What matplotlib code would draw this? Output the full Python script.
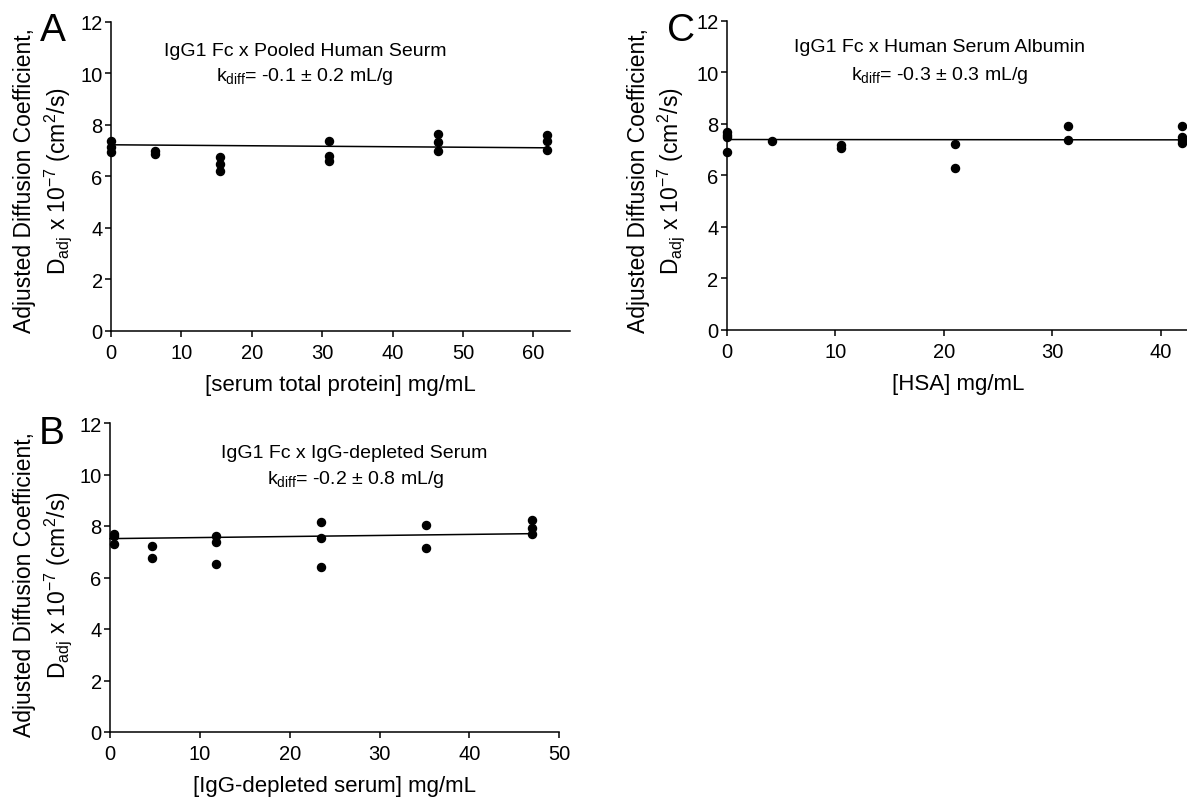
import matplotlib.pyplot as plt
import numpy as np

plt.rcParams['font.family'] = ['Liberation Sans', 'DejaVu Sans']
plt.rcParams['mathtext.default'] = 'regular'
plt.rcParams['axes.unicode_minus'] = False

# Panel A: pooled human serum
a_x = [0, 0, 0, 6.2, 6.2, 15.5, 15.5, 15.5, 31, 31, 31, 46.5, 46.5, 46.5, 62, 62, 62]
a_y = [7.38, 7.15, 6.95, 6.98, 6.88, 6.73, 6.47, 6.21, 7.38, 6.77, 6.58,
       7.64, 7.32, 6.99, 7.60, 7.38, 7.02]
a_fit = (7.22, -0.0019)  # intercept, slope

# Panel B: IgG-depleted serum
b_x = [0.45, 0.45, 0.45, 4.7, 4.7, 11.75, 11.75, 11.75, 23.5, 23.5, 23.5,
       35.2, 35.2, 47, 47, 47]
b_y = [7.68, 7.62, 7.29, 7.21, 6.75, 7.60, 7.36, 6.51, 8.17, 7.53, 6.42,
       8.02, 7.16, 8.23, 7.91, 7.68]
b_fit = (7.51, 0.0041)

# Panel C: human serum albumin
c_x = [0, 0, 0, 0, 4.2, 10.5, 10.5, 21, 21, 31.5, 31.5, 42, 42, 42, 42]
c_y = [7.67, 7.57, 7.48, 6.92, 7.32, 7.18, 7.07, 7.20, 6.27, 7.93, 7.36,
       7.93, 7.48, 7.37, 7.26]
c_fit = (7.39, -0.0003)

W, H = 1187, 803
fig = plt.figure(figsize=(W / 100, H / 100), dpi=100)


def px_axes(left, top, right, bottom):
    return fig.add_axes([left / W, 1 - bottom / H, (right - left) / W, (bottom - top) / H])


def setup(ax, xlim, xticks, xlabel):
    ax.set_xlim(*xlim)
    ax.set_ylim(0, 12)
    ax.set_xticks(xticks)
    ax.set_yticks(range(0, 13, 2))
    for s in ['top', 'right']:
        ax.spines[s].set_visible(False)
    for s in ['left', 'bottom']:
        ax.spines[s].set_linewidth(1.1)
    ax.tick_params(direction='out', length=4.5, width=1.1, labelsize=14.5)
    ax.tick_params(axis='y', pad=1.5)
    ax.tick_params(axis='x', pad=4)
    ax.set_xlabel(xlabel, fontsize=16, labelpad=9)


def draw(ax, x, y, fit, xmax):
    xs = np.array([0, xmax])
    ax.plot(xs, fit[0] + fit[1] * xs, color='black', lw=1.1, clip_on=False)
    ax.plot(x, y, 'o', color='black', ms=5.8, clip_on=False, zorder=3)


def ylab(xc1, xc2, yc):
    fig.text(xc1 / W, 1 - yc / H, 'Adjusted Diffusion Coefficient,', rotation=90,
             ha='center', va='center', fontsize=16.5)
    fig.text(xc2 / W, 1 - yc / H, r'D$_{adj}$ x 10$^{-7}$ (cm$^{2}$/s)', rotation=90,
             ha='center', va='center', fontsize=16.5)


axA = px_axes(111, 22.7, 570, 331.7)
setup(axA, (0, 65.2), range(0, 61, 10), '[serum total protein] mg/mL')
draw(axA, a_x, a_y, a_fit, 62)

axB = px_axes(110, 424, 559.3, 733)
setup(axB, (0, 50), range(0, 51, 10), '[IgG-depleted serum] mg/mL')
draw(axB, b_x, b_y, b_fit, 47)

axC = px_axes(726.7, 21.7, 1190, 331)
setup(axC, (0, 42.7), range(0, 41, 10), '[HSA] mg/mL')
draw(axC, c_x, c_y, c_fit, 42.7)

# titles
fs_t = 14
fig.text(305 / W, 1 - 51 / H, 'IgG1 Fc x Pooled Human Seurm', ha='center', va='center', fontsize=fs_t)
fig.text(305 / W, 1 - 77 / H, r'k$_{diff}$= -0.1 ± 0.2 mL/g', ha='center', va='center', fontsize=fs_t)
fig.text(354 / W, 1 - 454 / H, 'IgG1 Fc x IgG-depleted Serum', ha='center', va='center', fontsize=fs_t)
fig.text(356 / W, 1 - 480 / H, r'k$_{diff}$= -0.2 ± 0.8 mL/g', ha='center', va='center', fontsize=fs_t)
fig.text(940 / W, 1 - 48 / H, 'IgG1 Fc x Human Serum Albumin', ha='center', va='center', fontsize=fs_t)
fig.text(940 / W, 1 - 75 / H, r'k$_{diff}$= -0.3 ± 0.3 mL/g', ha='center', va='center', fontsize=fs_t)

# panel letters
fig.text(53 / W, 1 - 31 / H, 'A', ha='center', va='center', fontsize=28)
fig.text(52 / W, 1 - 434 / H, 'B', ha='center', va='center', fontsize=28)
fig.text(681 / W, 1 - 31 / H, 'C', ha='center', va='center', fontsize=28)

ylab(25, 58, 181)
ylab(25, 58, 585)
ylab(638, 671, 181)

fig.savefig('out.png', dpi=100)
plt.close(fig)
